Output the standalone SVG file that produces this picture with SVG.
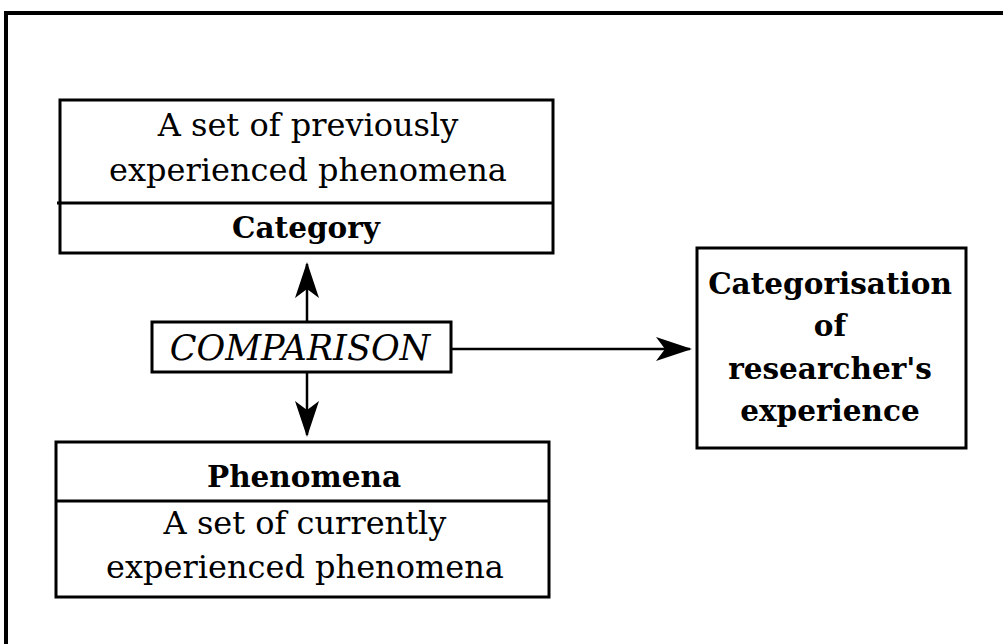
<svg xmlns="http://www.w3.org/2000/svg" width="1003" height="644" viewBox="0 0 1003 644">
<style>
.box{fill:#fff;stroke:#000;stroke-width:3}
.div{stroke:#000;stroke-width:3}
.t{font-family:"DejaVu Serif","Liberation Serif",serif;font-size:32px;text-anchor:middle;fill:#000}
.b{font-family:"DejaVu Serif","Liberation Serif",serif;font-size:29.5px;font-weight:bold;text-anchor:middle;fill:#000}
.i{font-family:"DejaVu Serif","Liberation Serif",serif;font-size:35px;font-style:italic;text-anchor:middle;fill:#000}
.c{stroke:#000;stroke-width:2.5;fill:none;marker-end:url(#ah)}
</style>
<defs>
<marker id="ah" viewBox="0 0 36 24" refX="34" refY="12" markerWidth="36" markerHeight="24" markerUnits="userSpaceOnUse" orient="auto">
<path d="M0,0 L36,12 L0,24 L9,12 Z" fill="#000"/>
</marker>
</defs>
<path d="M6,644 V13 H1003" fill="none" stroke="#000" stroke-width="4"/>
<g id="connectors">
<line class="c" x1="307" y1="321" x2="307" y2="264"/>
<line class="c" x1="307" y1="372" x2="307" y2="435"/>
<line class="c" x1="451" y1="349" x2="690" y2="349"/>
</g>
<g id="category">
<rect class="box" x="60" y="100" width="493" height="153"/>
<line class="div" x1="57" y1="203" x2="553" y2="203"/>
<text class="t" x="308" y="136">A set of previously</text>
<text class="t" x="308" y="181">experienced phenomena</text>
<text class="b" x="306" y="238">Category</text>
</g>
<g id="comparison">
<rect class="box" x="152" y="322" width="299" height="50"/>
<text class="i" x="300" y="360">COMPARISON</text>
</g>
<g id="phenomena">
<rect class="box" x="56" y="442" width="493" height="155"/>
<line class="div" x1="56" y1="501" x2="549" y2="501"/>
<text class="b" x="304" y="487">Phenomena</text>
<text class="t" x="305" y="534">A set of currently</text>
<text class="t" x="305" y="578">experienced phenomena</text>
</g>
<g id="categorisation">
<rect class="box" x="697" y="248" width="269" height="200"/>
<text class="b" x="830" y="294">Categorisation</text>
<text class="b" x="830" y="336">of</text>
<text class="b" x="830" y="379">researcher's</text>
<text class="b" x="830" y="421">experience</text>
</g>
</svg>
